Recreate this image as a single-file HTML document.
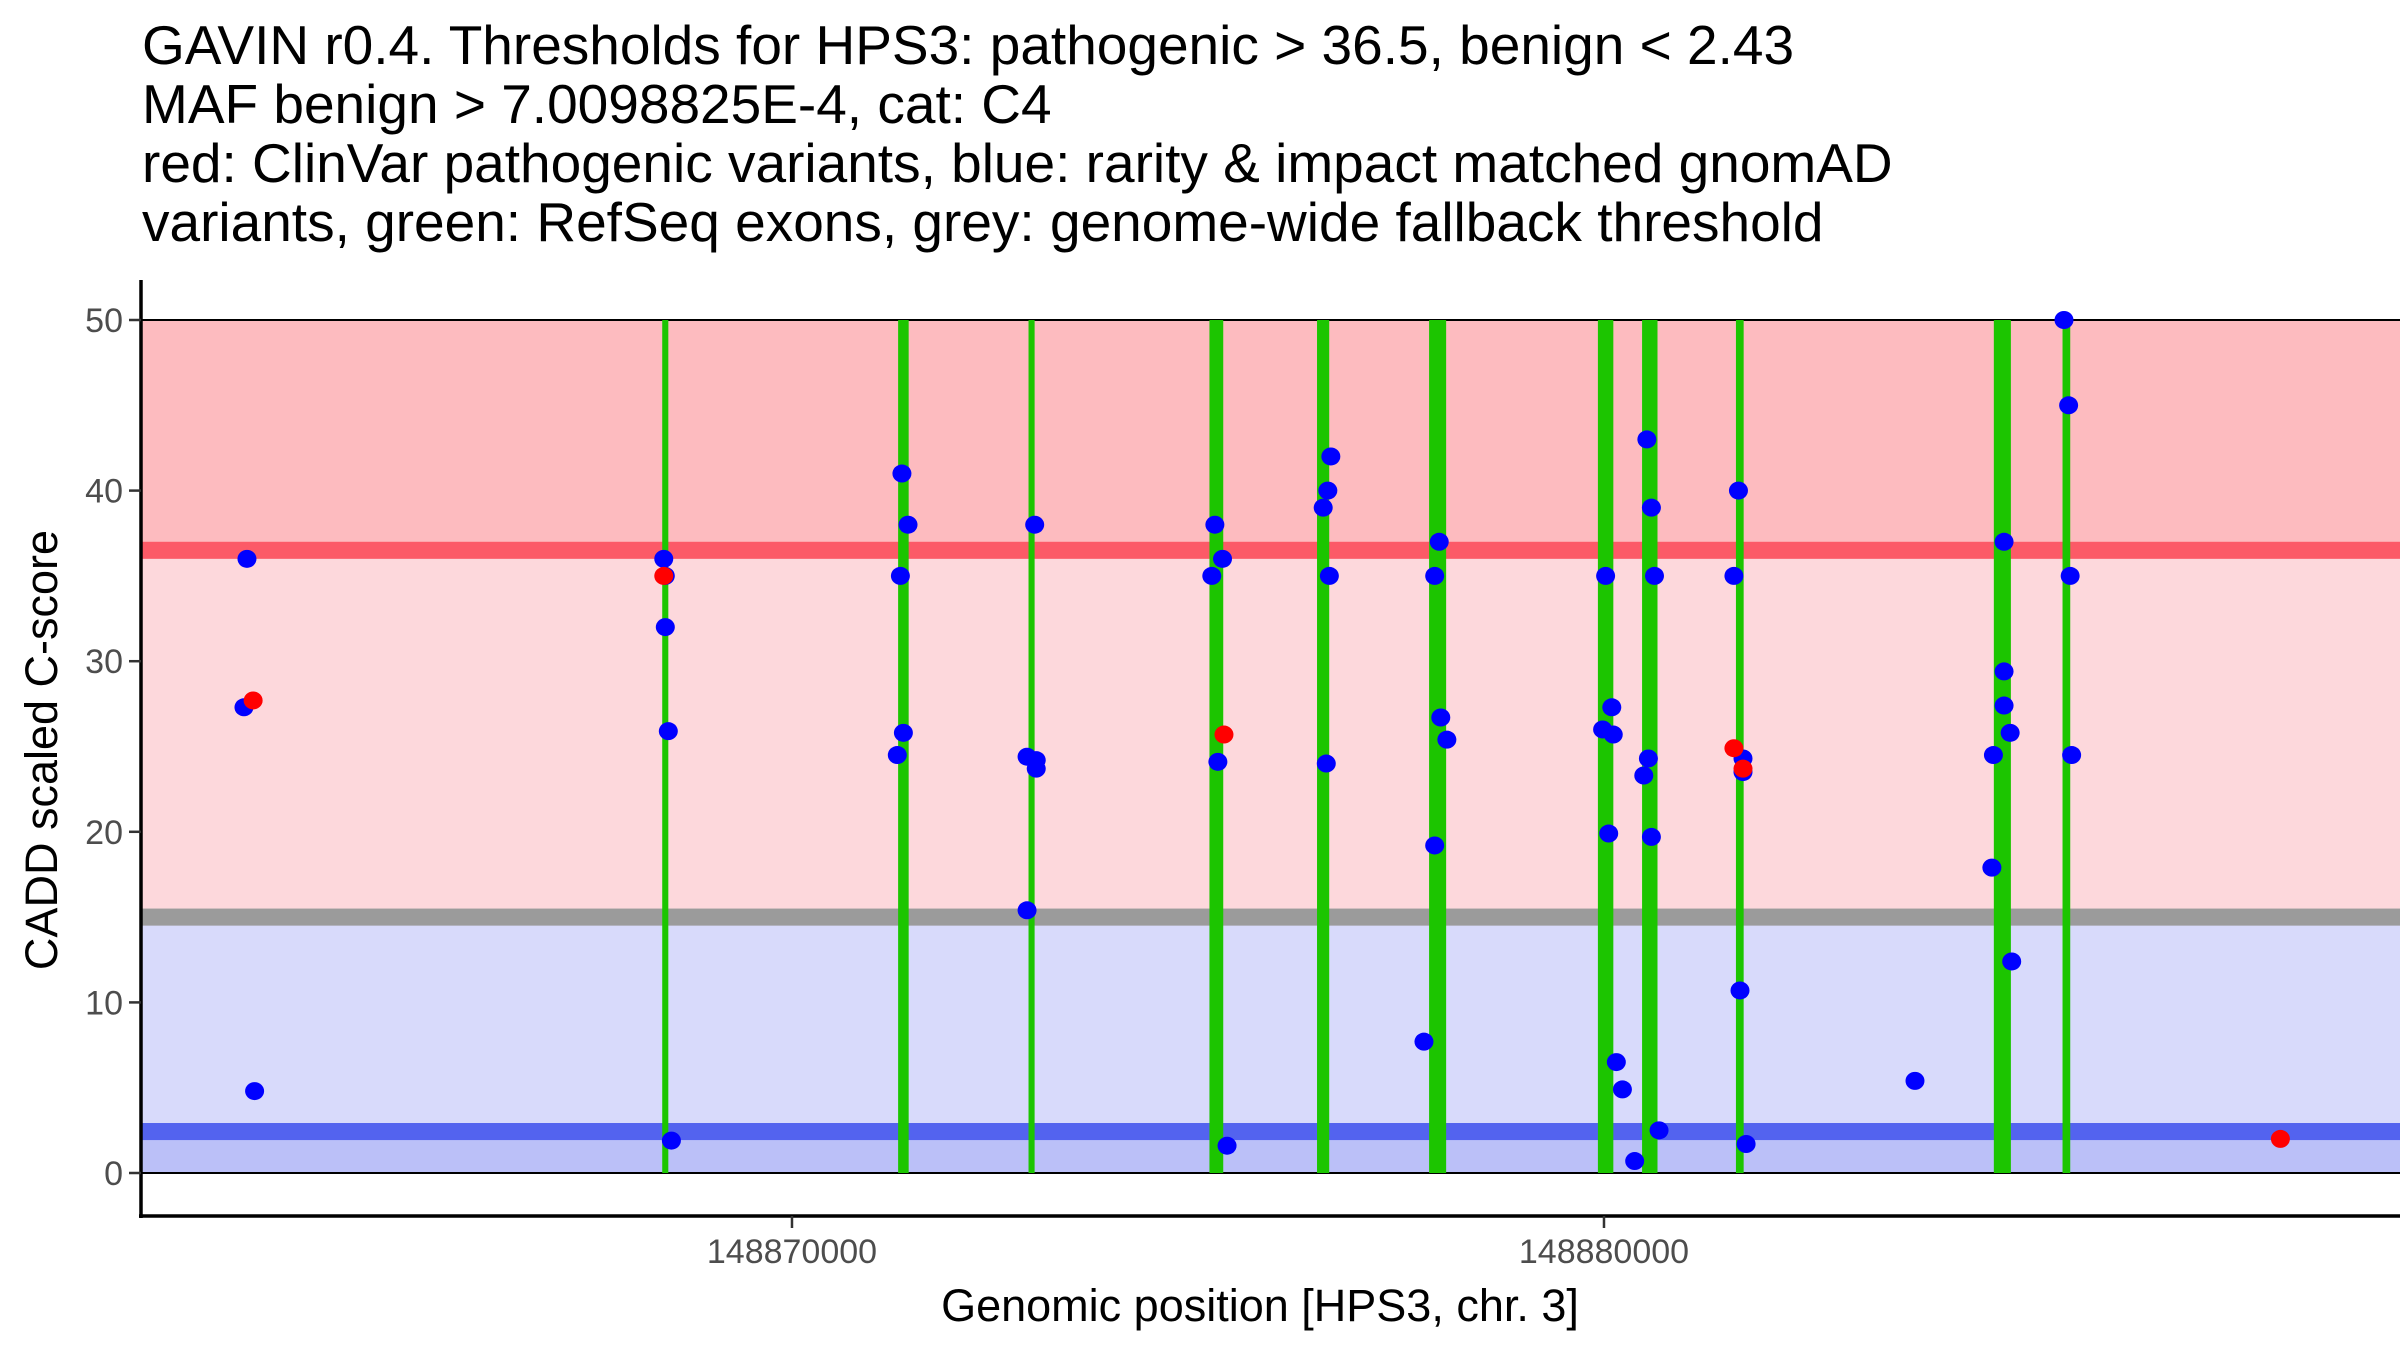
<!DOCTYPE html>
<html><head><meta charset="utf-8"><style>
html,body{margin:0;padding:0;background:#fff}
svg{display:block;font-family:"Liberation Sans",Arial,sans-serif}
</style></head><body>
<svg id="chart" width="2400" height="1350" viewBox="0 0 2400 1350" xmlns="http://www.w3.org/2000/svg">
<g font-size="55" fill="#000">
<text x="142" y="64">GAVIN r0.4. Thresholds for HPS3: pathogenic &gt; 36.5, benign &lt; 2.43</text>
<text x="142" y="123">MAF benign &gt; 7.0098825E-4, cat: C4</text>
<text x="142" y="182">red: ClinVar pathogenic variants, blue: rarity &amp; impact matched gnomAD</text>
<text x="142" y="241">variants, green: RefSeq exons, grey: genome-wide fallback threshold</text>
</g>
<g id="bands"></g>
<g id="exons"></g>
<g id="points"></g>
<g id="axes"></g>
<text transform="translate(57,750) rotate(-90)" text-anchor="middle" font-size="45">CADD scaled C-score</text>
<text x="1260" y="1321" text-anchor="middle" font-size="45">Genomic position [HPS3, chr. 3]</text>
</svg>
<script>
const exonStarts=[148868402,148871307,148872913,148875141,148876466,148877846,148879925,148880469,148881625,148884801,148885647];
const exonEnds=[148868477,148871437,148872988,148875311,148876616,148878056,148880115,148880659,148881720,148885011,148885742];
const benignPos=[148863288,148863251,148863382,148868421,148868440,148868440,148868477,148868515,148871354,148871429,148871335,148871297,148871372,148872895,148872895,148873008,148873008,148872989,148875208,148875170,148875302,148875245,148875358,148876542,148876599,148876636,148876618,148876580,148877971,148877915,148877990,148878065,148877915,148877783,148880020,148879983,148880096,148880114,148880058,148880152,148880227,148880378,148880528,148880584,148880622,148880547,148880490,148880584,148880678,148881656,148881600,148881712,148881712,148881675,148881750,148883830,148884927,148884927,148884927,148885002,148884796,148884777,148885021,148885665,148885722,148885741,148885759];
const benignScore=[36,27.3,4.8,36,35,32,25.9,1.9,41,38,35,24.5,25.8,15.4,24.4,24.2,23.7,38,38,35,36,24.1,1.6,39,40,42,35,24,37,35,26.7,25.4,19.2,7.7,35,26,27.3,25.7,19.9,6.5,4.9,0.7,43,39,35,24.3,23.3,19.7,2.5,40,35,24.3,23.5,10.7,1.7,5.4,37,29.4,27.4,25.8,24.5,17.9,12.4,50,45,35,24.5];
const pathoPos=[148863364,148868421,148875320,148881600,148881712,148888330];
const pathoScore=[27.7,35,25.7,24.9,23.7,2];
const yTicks=[0,10,20,30,40,50];
const xTicks=[148870000,148880000];
const thrPatho=36.5, thrBenign=2.43, thrFallback=15;

const NS='http://www.w3.org/2000/svg';
const X0=141,X1=2400,Y0=1173,Y50=320,XAXIS=1216;
const dMin=148861983,dMax=148889803;
function sx(v){return X0+(v-dMin)/(dMax-dMin)*(X1-X0);}
function sy(v){return Y0+(Y50-Y0)*v/50;}
function mk(tag,attrs,parent){const e=document.createElementNS(NS,tag);for(const k in attrs)e.setAttribute(k,attrs[k]);parent.appendChild(e);return e;}
const bands=document.getElementById('bands');
function band(lo,hi,col,name){const r=mk('rect',{x:X0,y:sy(hi),width:X1-X0,height:sy(lo)-sy(hi),fill:col},bands);

}
band(thrPatho,50,'#FDBBBF','pathogenic-zone');
band(thrFallback,thrPatho,'#FDD8DC','uncertain-high-zone');
band(thrBenign,thrFallback,'#D8DAFB','uncertain-low-zone');
band(0,thrBenign,'#BBC0F8','benign-zone');
band(thrPatho-0.5,thrPatho+0.5,'#FC5A67','pathogenic-threshold-line');
band(thrFallback-0.5,thrFallback+0.5,'#9B9B9B','fallback-threshold-line');
band(thrBenign-0.5,thrBenign+0.5,'#5363EF','benign-threshold-line');
let l1=mk('line',{x1:X0,x2:X1,y1:sy(50),y2:sy(50),stroke:'#000','stroke-width':2},bands);


let l2=mk('line',{x1:X0,x2:X1,y1:sy(0),y2:sy(0),stroke:'#000','stroke-width':2},bands);


const ex=document.getElementById('exons');
for(let i=0;i<exonStarts.length;i++){
 const r=mk('rect',{x:sx(exonStarts[i]),y:sy(50),width:sx(exonEnds[i])-sx(exonStarts[i]),height:sy(0)-sy(50),fill:'#1CC500'},ex);
 
 
}
const pts=document.getElementById('points');
for(let i=0;i<benignPos.length;i++){
 const c=mk('ellipse',{cx:sx(benignPos[i]),cy:sy(benignScore[i]),rx:9.5,ry:9,fill:'#0000FF'},pts);
 
 
}
for(let i=0;i<pathoPos.length;i++){
 const c=mk('ellipse',{cx:sx(pathoPos[i]),cy:sy(pathoScore[i]),rx:9.5,ry:9,fill:'#FF0000'},pts);
 
 
}
const ax=document.getElementById('axes');
let ya=mk('line',{x1:X0,x2:X0,y1:280,y2:XAXIS+2,stroke:'#000','stroke-width':3.5},ax);


let xa=mk('line',{x1:X0-2,x2:X1,y1:XAXIS,y2:XAXIS,stroke:'#000','stroke-width':3.5},ax);


yTicks.forEach(v=>{
 const t=mk('line',{x1:X0-12,x2:X0,y1:sy(v),y2:sy(v),stroke:'#333','stroke-width':2.5},ax);
 
 
 const l=mk('text',{x:X0-18,y:sy(v)+12,'text-anchor':'end','font-size':34,fill:'#4D4D4D'},ax);
 l.textContent=v;
 
 
});
xTicks.forEach(v=>{
 const t=mk('line',{x1:sx(v),x2:sx(v),y1:XAXIS,y2:XAXIS+12,stroke:'#333','stroke-width':2.5},ax);
 
 
 const l=mk('text',{x:sx(v),y:1263,'text-anchor':'middle','font-size':34,fill:'#4D4D4D'},ax);
 l.textContent=v;
 
 
});
</script>
</body></html>
